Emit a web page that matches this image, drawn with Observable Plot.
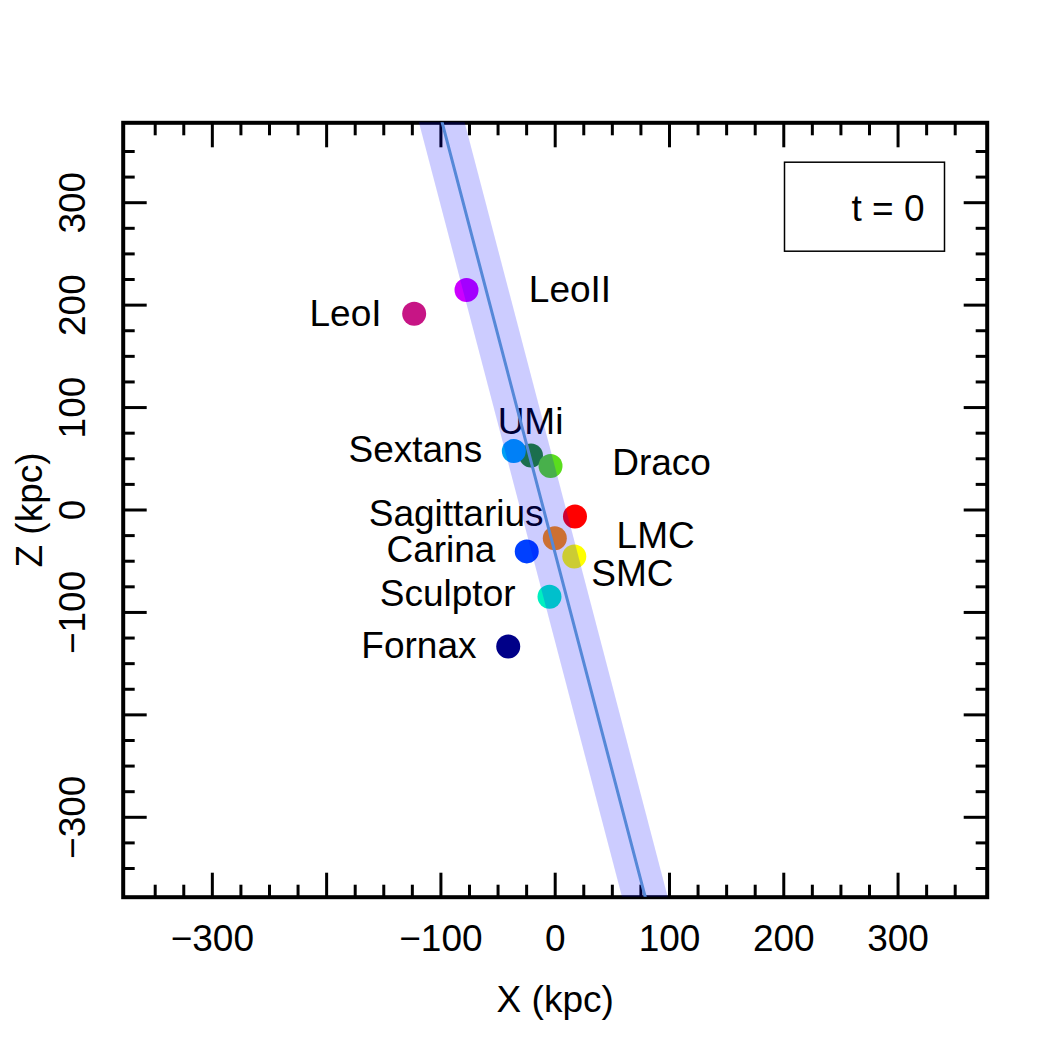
<!DOCTYPE html>
<html><head><meta charset="utf-8">
<script src="https://cdn.jsdelivr.net/npm/d3@7"></script>
<script src="https://cdn.jsdelivr.net/npm/@observablehq/plot@0.6"></script>
<style>body{margin:0;background:#fff} svg{display:block}</style>
</head><body><div id="chart"></div>
<script>
// Satellites (drawing order matters for overlaps)
const names  = ["LeoI","LeoII","UMi","Sextans","Draco","Sagittarius","LMC","SMC","Carina","Sculptor","Fornax"];
const xs     = [-123.4, -77.6, -21.2, -36.2, -4.1, 17.3, -0.35, 16.7, -24.9, -5.0, -41.1];
const zs     = [191.5, 214.7, 53.3, 57.5, 42.9, -6.3, -27.5, -45.4, -40.4, -84.6, -133.2];
const colors = ["#C71585","#CC00FF","#228B22","#00A0F5","#5ADD1E","#FF0000","#FF8C00","#FFFF00","#0040FF","#00F0C0","#000088"];
// label anchor positions (data units) and alignment
const labelX = [-152.0, -23.1, -21.6, -63.9, 49.9, -10.2, 53.7, 31.5, -52.3, -34.7, -68.9];
const labelZ = [190.9, 214.3, 86.2, 58.6, 46.1, -4.4, -25.9, -62.4, -39.2, -82.0, -132.5];
const labelAnchor = ["end","start","middle","end","start","end","start","start","end","end","end"];

// Plane fit (line) and its band
const lineZ = [400, -400];
const lineX = [-104, 84];
const bandLeft  = [-124, 64];
const bandRight = [-84, 104];

// axis ticks
const majorTicks = [-300, -200, -100, 0, 100, 200, 300];
const minorTicks = [-350,-325,-275,-250,-225,-175,-150,-125,-75,-50,-25,25,50,75,125,150,175,225,250,275,325,350];
const xTickLabels = [-300, -100, 0, 100, 200, 300];
const yTickLabels = [-300, -100, 0, 100, 200, 300];
const legendText = "t = 0";

const sats = names.map((n, i) => ({name: n, x: xs[i], z: zs[i], color: colors[i], lx: labelX[i], lz: labelZ[i], anchor: labelAnchor[i]}));
const line = lineZ.map((z, i) => ({z, x: lineX[i]}));
const band = lineZ.map((z, i) => ({z, left: bandLeft[i], right: bandRight[i]}));
const fmt = d3.format("d");
const FS = 37;

const tickMarks = [];
for (const anchor of ["bottom", "top"]) {
  tickMarks.push(Plot.axisX({ticks: majorTicks, anchor, tickSize: -24, strokeWidth: 3, fill: "none", label: null}));
  tickMarks.push(Plot.axisX({ticks: minorTicks, anchor, tickSize: -12, strokeWidth: 3, fill: "none", label: null}));
}
for (const anchor of ["left", "right"]) {
  tickMarks.push(Plot.axisY({ticks: majorTicks, anchor, tickSize: -24, strokeWidth: 3, fill: "none", label: null}));
  tickMarks.push(Plot.axisY({ticks: minorTicks, anchor, tickSize: -12, strokeWidth: 3, fill: "none", label: null}));
}

const chart = Plot.plot({
  width: 1050, height: 1050,
  marginLeft: 122.7, marginRight: 63.3, marginTop: 122.3, marginBottom: 153.3,
  style: {fontFamily: "'Liberation Sans', Arial, Helvetica, sans-serif", background: "white", color: "black"},
  x: {domain: [-378, 378], axis: null},
  y: {domain: [-378, 378], axis: null},
  marks: [
    Plot.dot(sats, {x: "x", y: "z", r: 12, fill: "color", stroke: "none"}),
    Plot.text(sats.filter(d => d.anchor === "end"), {x: "lx", y: "lz", text: "name", textAnchor: "end", lineAnchor: "middle", fontSize: FS}),
    Plot.text(sats.filter(d => d.anchor === "start"), {x: "lx", y: "lz", text: "name", textAnchor: "start", lineAnchor: "middle", fontSize: FS}),
    Plot.text(sats.filter(d => d.anchor === "middle"), {x: "lx", y: "lz", text: "name", textAnchor: "middle", lineAnchor: "middle", fontSize: FS}),
    // legend box
    Plot.frame({insetLeft: 661.3, insetRight: 42.7, insetTop: 39.4, insetBottom: 646, stroke: "black", strokeWidth: 1.5, fill: "white"}),
    Plot.text([legendText], {frameAnchor: "top-right", dx: -62.7, dy: 86.4, textAnchor: "end", lineAnchor: "middle", fontSize: FS}),
    // frame and ticks
    Plot.frame({stroke: "black", strokeWidth: 4}),
    ...tickMarks,
    // tick labels
    Plot.text(xTickLabels, {x: d => d, frameAnchor: "bottom", lineAnchor: "top", dy: 28, text: d => fmt(d), fontSize: FS}),
    Plot.text(yTickLabels, {y: d => d, frameAnchor: "left", rotate: -90, textAnchor: "middle", lineAnchor: "bottom", dx: -38.7, text: d => fmt(d), fontSize: FS}),
    // axis titles
    Plot.text(["X (kpc)"], {frameAnchor: "bottom", dy: 115, lineAnchor: "bottom", fontSize: FS}),
    Plot.text(["Z (kpc)"], {frameAnchor: "left", rotate: -90, textAnchor: "middle", lineAnchor: "bottom", dx: -81, fontSize: FS}),
    // band and line over everything
    Plot.areaX(band, {y: "z", x1: "left", x2: "right", fill: "blue", fillOpacity: 0.2, clip: true}),
    Plot.line(line, {x: "x", y: "z", stroke: "#5588D8", strokeWidth: 3, clip: true})
  ]
});
document.getElementById("chart").append(chart);
</script>
</body></html>
